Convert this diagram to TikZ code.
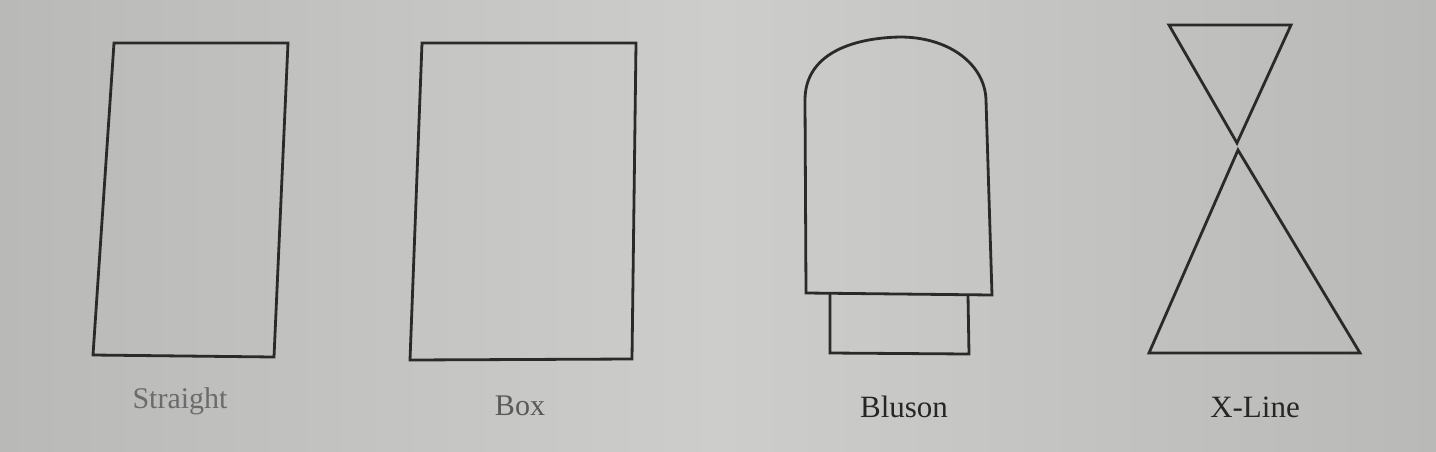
\documentclass[tikz,border=0pt]{standalone}
\usepackage{fontspec}
\setmainfont{Liberation Serif}
\definecolor{bgmid}{HTML}{CDCDCC}
\definecolor{bgside}{HTML}{B9B9B8}
\definecolor{ink}{HTML}{2A2A2A}
\begin{document}
\begin{tikzpicture}[x=1pt,y=-1pt,
  outline/.style={draw=ink,line width=2.8pt,line join=miter},
  lbl/.style={anchor=base,inner sep=0pt}]
\useasboundingbox (0,0) rectangle (1436,451);
\shade[left color=bgside,right color=bgside,middle color=bgmid] (0,0) rectangle (1436,451);
% Straight
\draw[outline] (114,43) -- (288,43) -- (274,357) -- (93,355) -- cycle;
% Box
\draw[outline] (422,43) -- (636,43) -- (632,359) -- (410,360) -- cycle;
% Bluson
\draw[outline] (806,293) -- (805,100) .. controls (805,55) and (850,38) .. (900,37)
  .. controls (950,37) and (985,65) .. (986,100) -- (992,295) -- cycle;
\draw[outline] (830,294) -- (830,353) -- (969,354) -- (968,295);
% X-Line
\draw[outline] (1169,25) -- (1291,25) -- (1237,143) -- cycle;
\draw[outline] (1238,150) -- (1360,353) -- (1149,353) -- cycle;
% labels
\node[lbl,text=black!58] (l1) at (180,408) {\fontsize{30pt}{30pt}\selectfont Straight};
\node[lbl,text=black!65] (l2) at (520,415) {\fontsize{30pt}{30pt}\selectfont Box};
\node[lbl,text=black!85] (l3) at (904,417) {\fontsize{31pt}{31pt}\selectfont Bluson};
\node[lbl,text=black!85] (l4) at (1255,417) {\fontsize{31pt}{31pt}\selectfont X-Line};
\end{tikzpicture}
\end{document}
